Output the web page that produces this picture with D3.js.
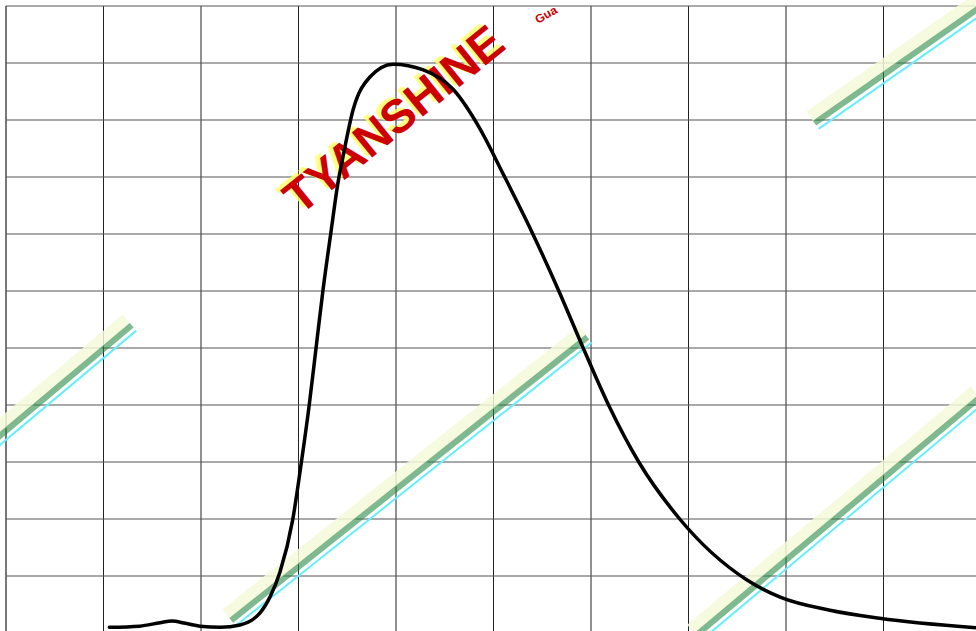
<!DOCTYPE html>
<html lang="en">
<head>
    <meta charset="UTF-8">
    <title>Curve</title>
    <script src="https://cdn.jsdelivr.net/npm/d3@7/dist/d3.min.js"></script>
    <style>
        body { margin: 0; background: #fff; }
        svg { display: block; }
    </style>
</head>
<body>
    <div id="chart"></div>
    <script>
        // grid divisions
        const xTicks = [0, 1, 2, 3, 4, 5, 6, 7, 8, 9, 10];
        const yTicks = [0, 1, 2, 3, 4, 5, 6, 7, 8, 9, 10, 11];

        // curve, in grid units
        const xs = [1.06, 1.37, 1.58, 1.70, 1.84, 1.99, 2.20, 2.40, 2.61, 2.71, 2.81, 2.94, 3.03, 3.11, 3.18, 3.25,
                    3.33, 3.41, 3.45, 3.56, 3.73, 3.97, 4.28, 4.59, 4.86, 5.10, 5.39, 5.67, 5.92, 6.18, 6.49,
                    6.91, 7.60, 7.94, 8.45, 8.96, 9.96];
        const ys = [0.10, 0.12, 0.18, 0.21, 0.17, 0.12, 0.10, 0.14, 0.36, 0.64, 1.07, 1.98, 3.00, 4.00, 5.00, 6.00,
                    7.00, 7.95, 8.30, 9.18, 9.75, 9.98, 9.88, 9.53, 8.85, 8.05, 7.05, 6.00, 5.00, 4.00, 3.00,
                    2.00, 0.93, 0.63, 0.40, 0.26, 0.09];

        const width = 976, height = 631;
        const svg = d3.select('#chart').append('svg')
            .attr('width', width)
            .attr('height', height);

        const x = d3.scaleLinear().domain([0, 10]).range([6, 981]);
        const y = d3.scaleLinear().domain([0, 11]).range([633, 6]);

        // grid
        svg.append('g').selectAll('line')
            .data(xTicks).enter().append('line')
            .attr('x1', d => x(d)).attr('x2', d => x(d))
            .attr('y1', y(11)).attr('y2', y(0))
            .attr('stroke', d => d === 0 ? '#777' : '#222')
            .attr('stroke-width', d => d === 0 ? 2 : 1);
        svg.append('g').selectAll('line')
            .data(yTicks).enter().append('line')
            .attr('x1', x(0)).attr('x2', x(10))
            .attr('y1', d => y(d)).attr('y2', d => y(d))
            .attr('stroke', '#555')
            .attr('stroke-width', 1.2);

        // watermarks (scrambled stamp strips)
        function strip(cx, cy, angle, len) {
            const g = svg.append('g')
                .attr('transform', `translate(${cx},${cy}) rotate(${angle})`);
            g.append('rect').attr('x', 0).attr('y', -20).attr('width', len).attr('height', 12)
                .attr('fill', '#f4f9d8').attr('opacity', 0.85);
            g.append('rect').attr('x', 0).attr('y', -9).attr('width', len).attr('height', 6)
                .attr('fill', '#2a8a4a').attr('opacity', 0.6);
            g.append('rect').attr('x', 0).attr('y', 0).attr('width', len).attr('height', 2)
                .attr('fill', '#66eeff');
        }
        strip(-10, 452, -40, 190);
        strip(235, 625, -38.5, 455);
        strip(700, 640, -40, 370);
        strip(818, 128, -35, 210);

        const wm = svg.append('g').attr('transform', 'translate(300,216) rotate(-39)');
        wm.append('text').attr('x', -3).attr('y', -4)
            .attr('font-family', 'Liberation Sans, Arial, sans-serif')
            .attr('font-weight', 'bold').attr('font-size', 47)
            .attr('fill', '#ffff70').attr('opacity', 0.85)
            .text('TYANSHINE');
        wm.append('text').attr('x', 0).attr('y', 0)
            .attr('font-family', 'Liberation Sans, Arial, sans-serif')
            .attr('font-weight', 'bold').attr('font-size', 47)
            .attr('fill', '#cc0000')
            .text('TYANSHINE');
        svg.append('text')
            .attr('transform', 'translate(538,24) rotate(-30)')
            .attr('font-family', 'Liberation Sans, Arial, sans-serif')
            .attr('font-weight', 'bold').attr('font-size', 12)
            .attr('fill', '#cc0000')
            .text('Gua');

        // curve
        const pts = xs.map((d, i) => [d, ys[i]]);
        const line = d3.line()
            .x(d => x(d[0]))
            .y(d => y(d[1]))
            .curve(d3.curveMonotoneX);
        svg.append('path')
            .datum(pts)
            .attr('d', line)
            .attr('fill', 'none')
            .attr('stroke', '#000')
            .attr('stroke-width', 3.5)
            .attr('stroke-linecap', 'round');
    </script>
</body>
</html>
